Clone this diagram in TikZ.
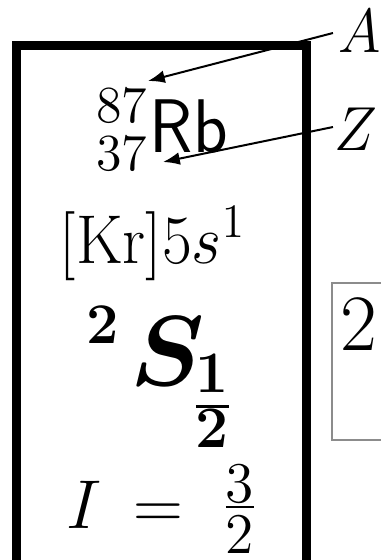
\documentclass[tikz,border=0pt]{standalone}
\usepackage{amsmath,bm,graphicx}
\usetikzlibrary{arrows.meta}
\newcommand{\fsz}[1]{\fontsize{#1}{#1}\selectfont}
\begin{document}
\begin{tikzpicture}[x=0.25pt,y=-0.25pt,
  txt/.style={inner sep=0pt,outer sep=0pt,anchor=base west},
  arr/.style={line width=0.5pt,-{Latex[length=4.2pt,width=3.2pt]}}]
\useasboundingbox (0,0) rectangle (381,560);
\clip (0,0) rectangle (381,560);
% boxes
\draw[line width=2.25pt] (16.5,45) rectangle (307,566);
\draw[line width=0.5pt,black!45] (332,283) rectangle (420,440);
% labels A and Z
\node[txt] (A) at (339,52) {\fsz{13.8}\scalebox{1}[1.08]{$A$}};
\node[txt] (Z) at (335,150) {\fsz{13.8}\scalebox{1}[1.08]{$Z$}};
% isotope
\node[txt] (iso) at (96,170) {\fsz{13}\offinterlineskip\vbox{\hbox{87}\kern2.9pt\hbox{37}}};
\node[txt] (Rb) at (150,152) {\fsz{19}\scalebox{0.94}[1]{\sffamily Rb}};
% arrows
\coordinate (As) at (333,33);
\coordinate (At) at (148,81);
\coordinate (Zs) at (333,127);
\coordinate (Zt) at (163,162);
\draw[arr] (As) -- (At);
\draw[arr] (Zs) -- (Zt);
% configuration
\node[txt] (cfg) at (60,263) {\fsz{18.3}\scalebox{0.94}[1]{$[\mathrm{Kr}]5s^1$}};
% term symbol
\node[txt] (sup2) at (87,343) {\fsz{15.5}$\mathbf{2}$};
\node[txt] (S) at (131,385) {\fsz{24}$\bm{S}$};
\node[txt] (half) at (196,447) {\fsz{14.7}\bfseries\vbox{\hbox{1}\kern3.1pt\hrule height 0.75pt\kern0.15pt\hbox{2}}};
% nuclear spin
\node[txt] (I) at (66,528) {\fsz{18.7}$I$};
\node[txt] (eq) at (134,528) {\fsz{18.7}$=$};
\node[txt] (frac) at (226,553) {\fsz{14.4}\vbox{\hbox{3}\kern0.5pt\hrule height 0.5pt\kern1.75pt\hbox{2}}};
% side box
\node[txt] (two) at (341,350) {\fsz{20}2};
\end{tikzpicture}
\end{document}
